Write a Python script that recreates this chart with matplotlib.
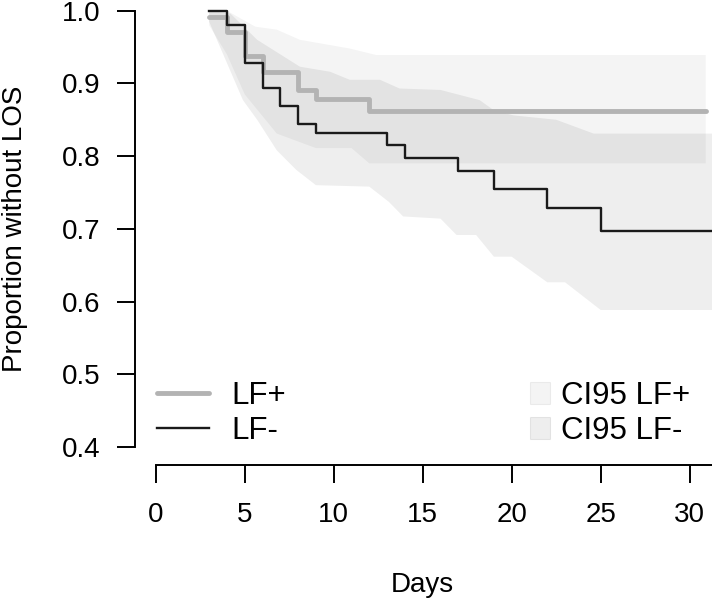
import matplotlib
matplotlib.use('Agg')
import matplotlib.pyplot as plt
from matplotlib.lines import Line2D
from matplotlib.patches import Patch
import numpy as np

plt.rcParams['font.family'] = ['Liberation Sans', 'DejaVu Sans']

# Kaplan-Meier curves (days, proportion without LOS)
lfp_t = [3, 4, 5, 6, 8, 9, 12, 30.9]
lfp_s = [0.992, 0.971, 0.938, 0.916, 0.891, 0.879, 0.862, 0.862]

lfm_t = [3, 4, 5, 6, 7, 8, 9, 13, 14, 17, 19, 22, 25, 31.5]
lfm_s = [1.0, 0.980, 0.928, 0.893, 0.869, 0.844, 0.832, 0.815, 0.797,
         0.780, 0.755, 0.729, 0.697, 0.697]

# 95% confidence bands
lfp_hi_t = [3, 4, 5.6, 6.8, 8.1, 10.9, 12.4, 30.9]
lfp_hi = [1.0, 1.0, 0.978, 0.974, 0.960, 0.948, 0.939, 0.939]
lfp_lo_t = [3, 4, 5, 6.8, 9, 11, 12, 30.9]
lfp_lo = [0.98, 0.94, 0.885, 0.831, 0.811, 0.811, 0.79, 0.79]

lfm_hi_t = [3, 4.2, 5.7, 8.1, 9.8, 10.9, 12.6, 13.7, 16, 18.2, 19, 20.1,
            22.5, 24.6, 31.5]
lfm_hi = [1.0, 0.996, 0.960, 0.923, 0.916, 0.905, 0.905, 0.893, 0.891,
          0.877, 0.863, 0.856, 0.850, 0.831, 0.831]
lfm_lo_t = [3, 4.9, 5.7, 6.8, 7.9, 9, 12, 13.1, 13.9, 16, 16.9, 18, 19, 20,
            22, 23, 25, 31.5]
lfm_lo = [0.985, 0.877, 0.85, 0.808, 0.781, 0.760, 0.758, 0.737, 0.717,
          0.714, 0.6915, 0.6915, 0.6616, 0.6616, 0.6264, 0.6264, 0.5883,
          0.5883]

x_ticks = [0, 5, 10, 15, 20, 25, 30]
y_ticks = [0.4, 0.5, 0.6, 0.7, 0.8, 0.9, 1.0]

FS = 20
LFS = 22.5
W, H = 712, 604
fig = plt.figure(figsize=(W / 100, H / 100), dpi=100)
ax = fig.add_axes([135 / W, (H - 465) / H, 1 - 135 / W, 465 / H])

ci_p = (0, 0, 0, 0.045)
ci_m = (0, 0, 0, 0.065)

# bands as polygons: upper edge then lower edge reversed
ax.fill(np.r_[lfp_hi_t, lfp_lo_t[::-1]], np.r_[lfp_hi, lfp_lo[::-1]],
        color=ci_p, lw=0)
ax.fill(np.r_[lfm_hi_t, lfm_lo_t[::-1]], np.r_[lfm_hi, lfm_lo[::-1]],
        color=ci_m, lw=0)

ax.step(lfp_t, lfp_s, where='post', color='#b3b3b3', lw=3.5,
        solid_capstyle='round')
ax.step(lfm_t, lfm_s, where='post', color='#1a1a1a', lw=1.7)

ax.set_xlim((135 - 155.7) / 17.8, (712 - 155.7) / 17.8)
ax.set_ylim(1 - (465 - 10.7) / 727, 1 + 10.7 / 727)

for s in ['top', 'right']:
    ax.spines[s].set_visible(False)
ax.spines['left'].set_bounds(0.4, 1.0)
ax.spines['bottom'].set_bounds(0, 31.25)
for s in ['left', 'bottom']:
    ax.spines[s].set_linewidth(1.4)

ax.set_xticks(x_ticks)
ax.set_yticks(y_ticks)
ax.set_yticklabels([f'{v:.1f}' for v in y_ticks])
ax.tick_params(axis='both', direction='out', length=13, width=1.4,
               labelsize=FS, colors='black')
ax.tick_params(axis='x', pad=14)
ax.tick_params(axis='y', pad=12)

fig.text(15 / W, 1 - 229 / H, 'Proportion without LOS', rotation=90,
         ha='center', va='center', fontsize=FS)
fig.text(422 / W, 1 - 585 / H, 'Days', ha='center', va='center', fontsize=FS)

h1 = [Line2D([], [], color='#b3b3b3', lw=3.5, solid_capstyle='round'),
      Line2D([], [], color='#1a1a1a', lw=1.7)]
leg1 = fig.legend(h1, ['LF+', 'LF-'], loc='center left',
                  bbox_to_anchor=(157 / W, 1 - 413.5 / H), frameon=False,
                  fontsize=LFS, handlelength=1.65, handletextpad=0.72,
                  labelspacing=0.15, borderpad=0, borderaxespad=0)

h2 = [Patch(facecolor=ci_p, edgecolor=(0, 0, 0, 0.06), lw=0.8),
      Patch(facecolor=ci_m, edgecolor=(0, 0, 0, 0.08), lw=0.8)]
leg2 = fig.legend(h2, ['CI95 LF+', 'CI95 LF-'], loc='center left',
                  bbox_to_anchor=(530 / W, 1 - 413.5 / H), frameon=False,
                  fontsize=LFS, handlelength=0.65, handleheight=0.7,
                  handletextpad=0.35, labelspacing=0.15, borderpad=0,
                  borderaxespad=0)

fig.savefig('out.png', dpi=100)
